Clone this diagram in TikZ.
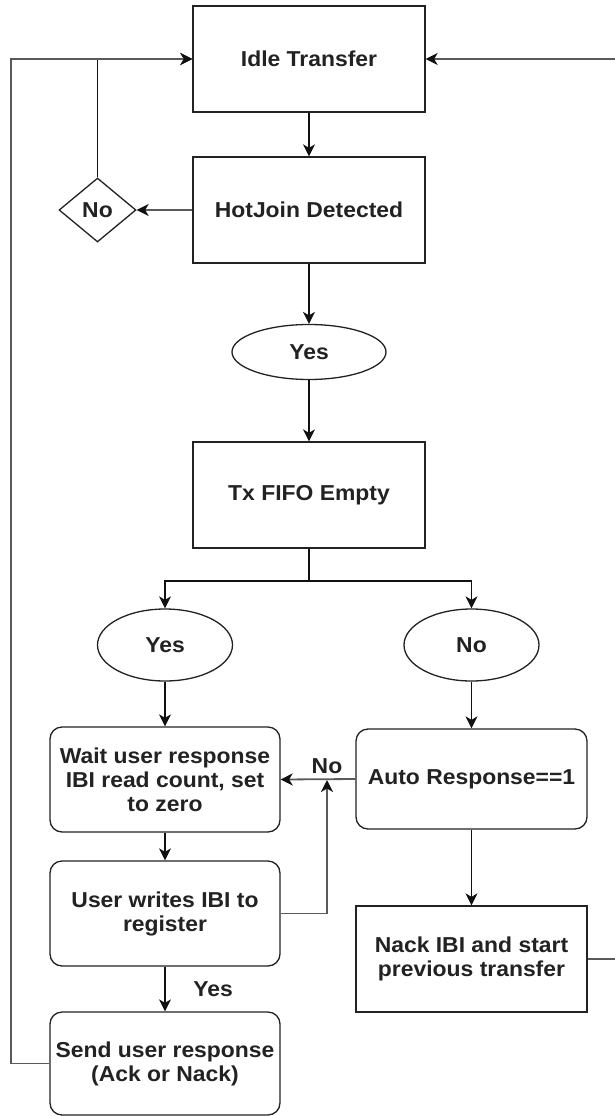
\documentclass[tikz,border=0pt]{standalone}
\usepackage{fontspec}
\setmainfont{Liberation Sans}[FakeStretch=1.06]
\usetikzlibrary{arrows.meta,shapes.geometric}
\definecolor{ink}{HTML}{222222}
\definecolor{wire}{HTML}{111111}
\definecolor{softwire}{HTML}{5a5a5a}
\tikzset{
  lbl/.style={font=\fontsize{21.6}{24}\selectfont\bfseries, text=ink, align=center},
  box/.style={lbl, draw=ink, line width=1.3pt, rectangle, inner sep=0pt},
  rbox/.style={box, rounded corners=12pt},
  oval/.style={lbl, draw=ink, line width=1.3pt, ellipse, inner sep=0pt},
  decision/.style={lbl, draw=ink, line width=1.3pt, diamond, aspect=1.2, inner sep=0pt},
  tip/.style={-{Stealth[length=12pt,width=12pt,inset=3.5pt,color=wire]}},
  plain/.style={draw=wire, line width=1.4pt},
  link/.style={plain, tip},
  softlink/.style={draw=softwire, line width=1.8pt, tip},
  wide/.style={minimum width=232pt, minimum height=106pt},
  step box/.style={minimum width=230pt, minimum height=105pt},
}
\begin{document}
\begin{tikzpicture}[x=1pt,y=-1pt]
  \fill[white] (0,0) rectangle (615,1116);
  \useasboundingbox (0,0) rectangle (615,1116);

  % main column
  \node[box, wide] (idle) at (309,59) {Idle Transfer};
  \node[box, wide] (hot) at (309,210) {HotJoin Detected};
  \node[decision, minimum width=77pt, minimum height=64pt] (no1) at (97.5,210) {No};
  \node[oval, minimum width=154pt, minimum height=55pt] (yes1) at (309,352) {Yes};
  \node[box, wide] (fifo) at (309,495) {Tx FIFO Empty};

  % branches
  \node[oval, minimum width=135pt, minimum height=72pt] (yes2) at (165,645) {Yes};
  \node[oval, minimum width=135pt, minimum height=72pt] (no2) at (471.5,645) {No};

  \node[rbox, step box] (wait) at (165,779.5) {Wait user response\\IBI read count, set\\to zero};
  \node[rbox, minimum width=231pt, minimum height=100pt] (auto) at (471.5,779) {Auto Response==1};
  \node[rbox, step box] (user) at (165,913.5) {User writes IBI to\\register};
  \node[rbox, minimum width=230pt, minimum height=103pt] (send) at (165,1063.5) {Send user response\\(Ack or Nack)};
  \node[box, minimum width=231pt, minimum height=106pt] (nack) at (471.5,959) {Nack IBI and start\\previous transfer};

  % connector labels
  \node[lbl] (nolab) at (327,766) {No};
  \node[lbl] (yeslab) at (213,989) {Yes};

  % routing points
  \coordinate (br) at (309,581);
  \coordinate (j) at (327,780);
  \coordinate (lc) at (11,59);
  \coordinate (rt) at (640,59);

  % connectors
  \draw[link] (idle.south) -- (hot.north);
  \draw[softlink] (hot.west) -- (no1.east);
  \draw[link] (no1.north) |- (idle.west);
  \draw[link] (hot.south) -- (yes1.north);
  \draw[link] (yes1.south) -- (fifo.north);
  \draw[plain] (fifo.south) -- (br);
  \draw[link] (br) -| (yes2.north);
  \draw[link] (br) -| (no2.north);
  \draw[link] (yes2.south) -- (wait.north);
  \draw[link] (no2.south) -- (auto.north);
  \draw[softlink] (auto.west) -- (wait.east);
  \draw[softlink] (user.east) -| (j);
  \draw[link] (wait.south) -- (user.north);
  \draw[link] (user.south) -- (send.north);
  \draw[softlink] (send.west) -| (lc) -- (idle.west);
  \draw[link] (auto.south) -- (nack.north);
  \draw[softlink] (nack.east) -- (nack.east -| rt) -- (rt) -- (idle.east);
\end{tikzpicture}
\end{document}
